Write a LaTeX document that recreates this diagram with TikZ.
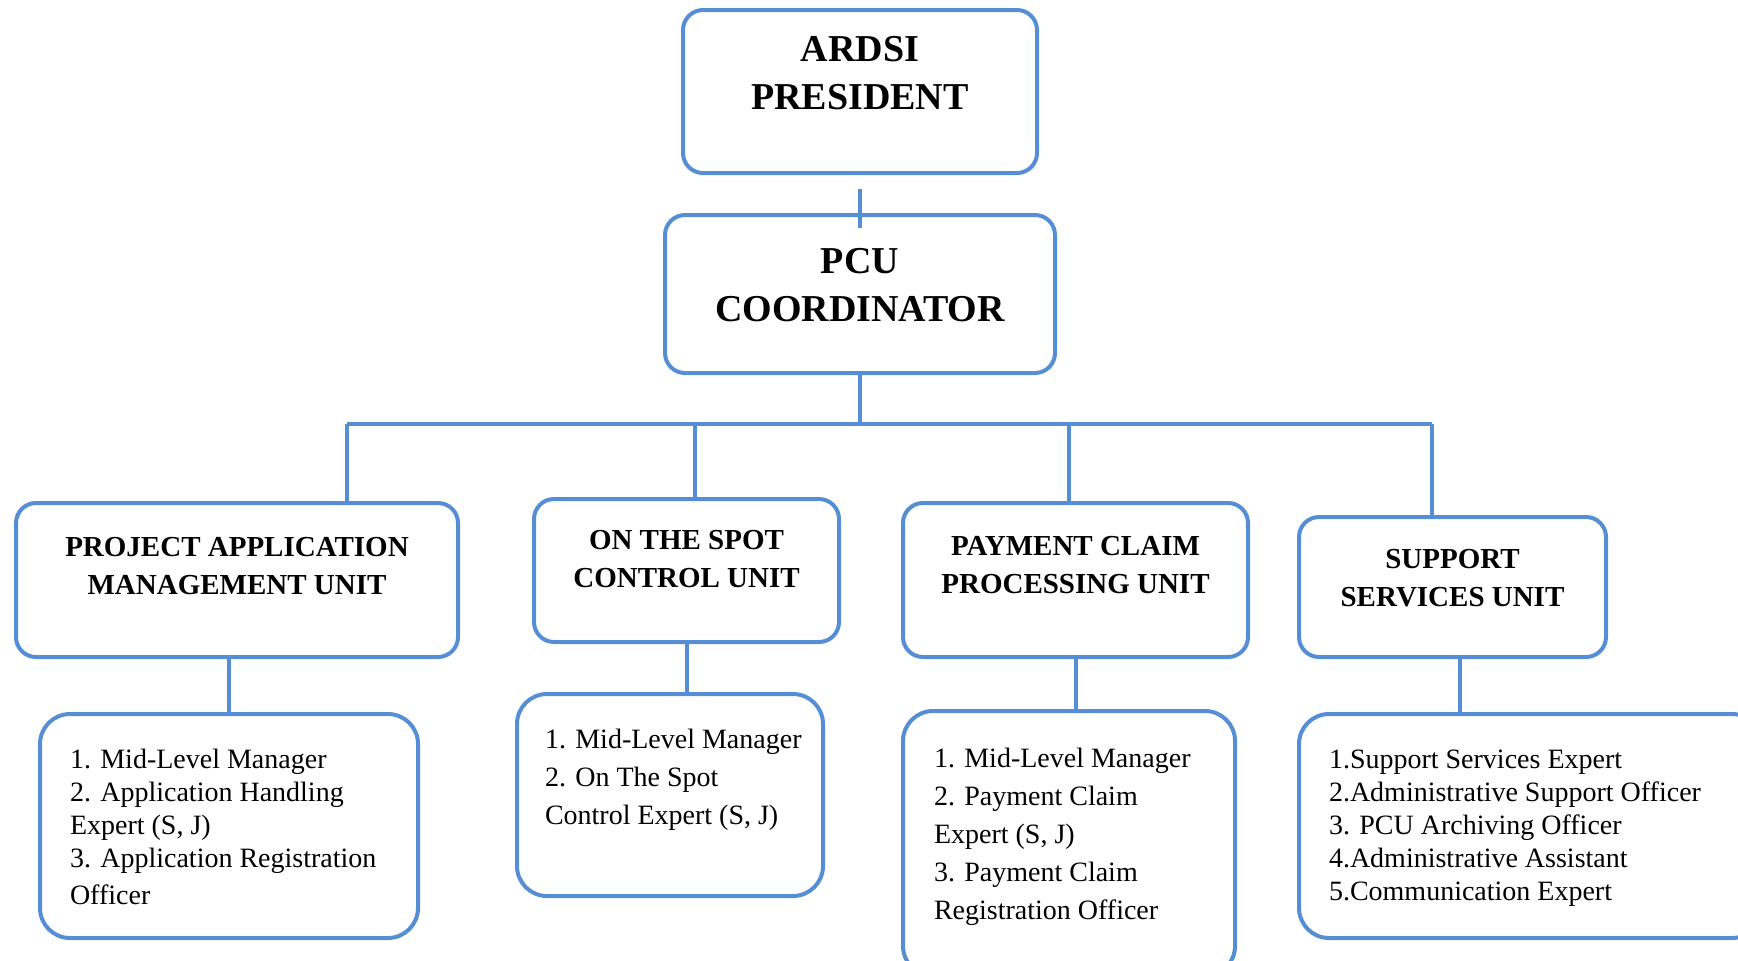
\documentclass[tikz,border=0pt]{standalone}
\usepackage{fontspec}
\setmainfont{Liberation Serif}
\usepackage{xcolor}
\usepackage{tikz}
\definecolor{orgblue}{RGB}{85,142,213}

% fixed-size box text, aligned to the top
\newcommand{\headtxt}[4]{\parbox[c][#2][t]{#1}{\centering\rule{0pt}{#3}#4}}
\newcommand{\listtxt}[5]{\parbox[c][#2][t]{#1}{\raggedright\leftskip=#4\rule{0pt}{#3}#5}}

\begin{document}
\begin{tikzpicture}[x=0.5pt,y=-0.5pt]
\useasboundingbox (0,0) rectangle (1738,960);
\clip (0,0) rectangle (1738,960);

\begin{scope}[every node/.style={rectangle,draw=orgblue,line width=2pt,rounded corners=10pt,
              inner sep=0pt,anchor=north west,font=\bfseries\fontsize{19}{24}\selectfont}]
    \node (ardsi) at (681,8) {\headtxt{177pt}{81.5pt}{25.5pt}{ARDSI\\PRESIDENT}};
    \node (pcu) at (663,213) {\headtxt{195pt}{79pt}{29pt}{PCU\\COORDINATOR}};
    \end{scope}

\begin{scope}[every node/.style={rectangle,draw=orgblue,line width=2pt,rounded corners=10pt,
              inner sep=0pt,anchor=north west,font=\bfseries\fontsize{14.5}{19}\selectfont}]
    \node (pamu) at (14,501) {\headtxt{221pt}{77pt}{26.5pt}{PROJECT APPLICATION\\MANAGEMENT UNIT}};
    \node (ots) at (532,497) {\headtxt{152.5pt}{71.5pt}{25pt}{ON THE SPOT\\CONTROL UNIT}};
    \node (pcp) at (901,501) {\headtxt{172.5pt}{77pt}{26pt}{PAYMENT CLAIM\\PROCESSING UNIT}};
    \node (ssu) at (1297,515) {\headtxt{153.5pt}{70pt}{25.5pt}{SUPPORT\\SERVICES UNIT}};
    \end{scope}

\begin{scope}[every node/.style={rectangle,draw=orgblue,line width=2pt,rounded corners=15pt,
              inner sep=0pt,anchor=north west,font=\fontsize{14}{16.5}\selectfont}]
    \node (pamul) at (38,712) {\listtxt{189pt}{112pt}{27pt}{15pt}{1. Mid-Level Manager\\2. Application Handling\\Expert (S, J)\\3. Application Registration\\[2pt]Officer}};
    \node[font=\fontsize{14}{19}\selectfont] (otsl) at (515,692) {\listtxt{153pt}{101pt}{27pt}{14pt}{1. Mid-Level Manager\\2. On The Spot\\Control Expert (S, J)}};
    \node[font=\fontsize{14}{19}\selectfont] (pcpl) at (901,709) {\listtxt{166pt}{132.5pt}{28pt}{15.5pt}{1. Mid-Level Manager\\2. Payment Claim\\Expert (S, J)\\3. Payment Claim\\Registration Officer}};
    \node (ssul) at (1297,712) {\listtxt{231.5pt}{112pt}{27pt}{15pt}{1.Support Services Expert\\2.Administrative Support Officer\\3. PCU Archiving Officer\\4.Administrative Assistant\\5.Communication Expert}};
    \end{scope}

\begin{scope}[every edge/.style={draw=orgblue,line width=2pt}]
    \coordinate (busL) at (347,424);
    \coordinate (busR) at (1432,424);
    \coordinate (drop2) at (695,424);
    \coordinate (drop3) at (1069,424);
    \coordinate (ssulink) at (1460,656);
    \path ([yshift=-7pt]ardsi.south) edge ([yshift=-7.5pt]pcu.north);
    \path (pcu.south) edge (pcu.south |- busL);
    \path (busL) edge (busR);
    \path (busL) edge (busL |- pamu.north);
    \path (drop2) edge (drop2 |- ots.north);
    \path (drop3) edge (drop3 |- pcp.north);
    \path (busR) edge (busR |- ssu.north);
    \path (pamul.north |- pamu.south) edge (pamul.north);
    \path (ots.south) edge (ots.south |- otsl.north);
    \path (pcp.south) edge (pcp.south |- pcpl.north);
    \path (ssulink) edge (ssulink |- ssul.north);
    \end{scope}

\end{tikzpicture}
\end{document}
